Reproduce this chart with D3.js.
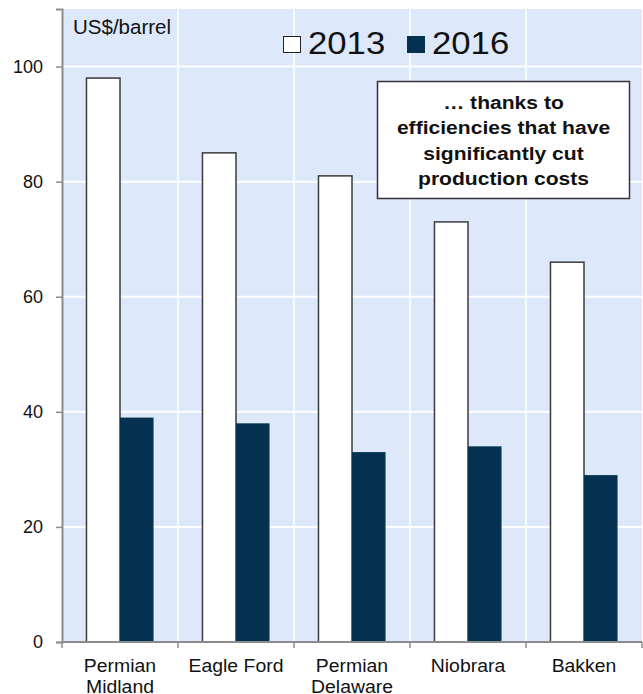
<!DOCTYPE html>
<html>
<head>
<meta charset="utf-8">
<script src="https://cdn.jsdelivr.net/npm/d3@7/dist/d3.min.js"></script>
<style>
  html, body { margin: 0; padding: 0; background: #fff; }
  svg { display: block; font-family: "Liberation Sans", Arial, sans-serif; }
</style>
</head>
<body>
<svg id="chart" width="643" height="694"></svg>
<script>
const categories = ["Permian\nMidland", "Eagle Ford", "Permian\nDelaware", "Niobrara", "Bakken"];
const seriesNames = ["2013", "2016"];
const values2013 = [98, 85, 81, 73, 66];
const values2016 = [39, 38, 33, 34, 29];
const yTicks = [0, 20, 40, 60, 80, 100];
const unitLabel = "US$/barrel";
const noteLines = ["\u2026 thanks to", "efficiencies that have", "significantly cut", "production costs"];

const colors = { "2013": "#ffffff", "2016": "#03314f" };
const svg = d3.select("#chart");
const margin = { left: 62, right: 1, top: 9, bottom: 52 };
const W = 643, H = 694;
const plotW = W - margin.left - margin.right;
const plotH = H - margin.top - margin.bottom;

const x0 = d3.scaleBand().domain(categories).range([0, plotW]).paddingInner(0).paddingOuter(0);
const x1 = d3.scaleBand().domain(seriesNames).range([0, x0.bandwidth()]).paddingInner(0).paddingOuter(0.73);
const y = d3.scaleLinear().domain([0, 110]).range([plotH, 0]);

function stretchedText(parent, x, yy, str, size, sx, opts) {
  opts = opts || {};
  return parent.append("text")
    .attr("transform", `translate(${x},${yy}) scale(${sx},1)`)
    .attr("text-anchor", opts.anchor || "start")
    .attr("font-size", size)
    .attr("font-weight", opts.bold ? "bold" : "normal")
    .attr("fill", "#111")
    .text(str);
}

const g = svg.append("g").attr("transform", `translate(${margin.left},${margin.top})`);

// background
g.append("rect").attr("x", 0).attr("y", 0).attr("width", plotW).attr("height", plotH).attr("fill", "#dde9fb");

// horizontal grid
g.selectAll(".hgrid").data(yTicks.filter(d => d > 0)).enter().append("line")
  .attr("x1", 0).attr("x2", plotW)
  .attr("y1", d => y(d)).attr("y2", d => y(d))
  .attr("stroke", "#ffffff").attr("stroke-width", 2);

// vertical grid at category boundaries
g.selectAll(".vgrid").data(categories.slice(1)).enter().append("line")
  .attr("x1", d => x0(d)).attr("x2", d => x0(d))
  .attr("y1", 0).attr("y2", plotH)
  .attr("stroke", "#ffffff").attr("stroke-width", 1.5);

// bars
const data = categories.map((c, i) => ({ cat: c, vals: [
  { s: "2013", v: values2013[i] }, { s: "2016", v: values2016[i] } ] }));

const groups = g.selectAll(".grp").data(data).enter().append("g")
  .attr("transform", d => `translate(${x0(d.cat)},0)`);

groups.selectAll("rect").data(d => d.vals).enter().append("rect")
  .attr("x", d => x1(d.s))
  .attr("y", d => y(d.v))
  .attr("width", x1.bandwidth())
  .attr("height", d => plotH - y(d.v))
  .attr("fill", d => colors[d.s])
  .attr("stroke", d => d.s === "2013" ? "#3a3a3a" : "none")
  .attr("stroke-width", 1.5);

// y axis
const yAxis = g.append("g").call(d3.axisLeft(y).tickValues(yTicks).tickSize(6).tickPadding(13).tickFormat(d3.format("d")));
yAxis.select(".domain").attr("stroke", "#8c8c8c").attr("stroke-width", 2);
yAxis.selectAll(".tick line").attr("stroke", "#8c8c8c").attr("stroke-width", 1.5);
yAxis.selectAll(".tick text").attr("font-size", 18).attr("fill", "#111").attr("font-family", "Liberation Sans, Arial, sans-serif");

// x axis
const xAxisG = g.append("g").attr("transform", `translate(0,${plotH})`);
xAxisG.append("line").attr("x1", 0).attr("x2", plotW).attr("y1", 0).attr("y2", 0)
  .attr("stroke", "#8c8c8c").attr("stroke-width", 2);
const boundaries = categories.map(c => x0(c)).concat([plotW]);
xAxisG.selectAll(".xt").data(boundaries).enter().append("line")
  .attr("x1", d => d).attr("x2", d => d).attr("y1", 0).attr("y2", 6)
  .attr("stroke", "#8c8c8c").attr("stroke-width", 1.5);
categories.forEach(c => {
  c.split("\n").forEach((p, i) => {
    stretchedText(xAxisG, x0(c) + x0.bandwidth() / 2, 30 + i * 20.5, p, 18.5, 1.05, { anchor: "middle" });
  });
});

// unit label
svg.append("text").attr("x", 73).attr("y", 34).attr("font-size", 20.5).attr("fill", "#111").text(unitLabel);

// legend
const legend = svg.append("g");
const legItems = [{ s: "2013", x: 283 }, { s: "2016", x: 407 }];
legItems.forEach(it => {
  legend.append("rect").attr("x", it.x + 0.5).attr("y", 36.5).attr("width", 17).attr("height", 16)
    .attr("fill", colors[it.s]).attr("stroke", it.s === "2013" ? "#222" : colors[it.s]).attr("stroke-width", 1);
  stretchedText(legend, it.x + 25, 54, it.s, 32, 1.085);
});

// annotation box
svg.append("rect").attr("x", 377.5).attr("y", 81.5).attr("width", 252).attr("height", 117)
  .attr("fill", "#fff").attr("stroke", "#333").attr("stroke-width", 1.5);
noteLines.forEach((l, i) => {
  stretchedText(svg, 503.5, 109 + i * 25.3, l, 18.5, 1.14, { anchor: "middle", bold: true });
});
</script>
</body>
</html>
